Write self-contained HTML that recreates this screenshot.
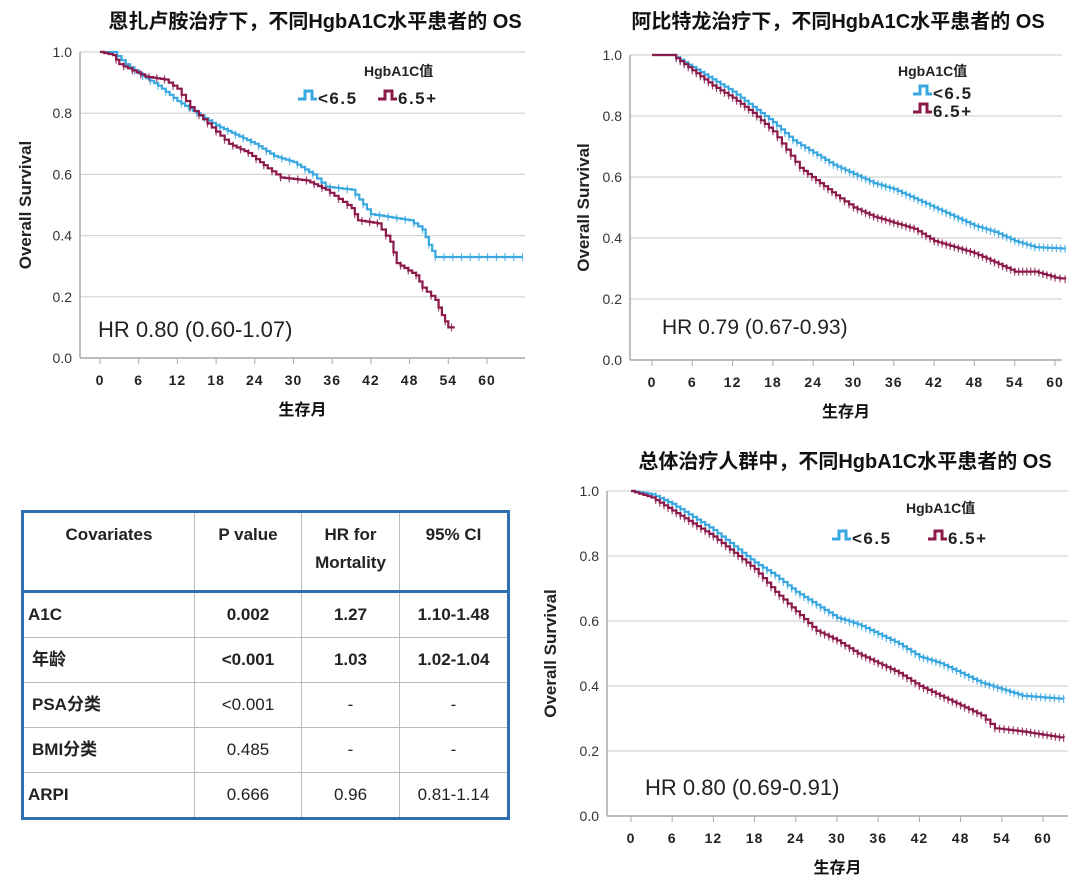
<!DOCTYPE html>
<html><head><meta charset="utf-8">
<style>
body{margin:0;background:#fff;width:1080px;height:884px;overflow:hidden;font-family:"Liberation Sans","Noto Sans CJK SC",sans-serif;}
svg{position:absolute;left:0;top:0}
table{position:absolute;left:21px;top:510px;width:489px;height:305px;border-collapse:collapse;border:3px solid #2d6fb0;font-family:"Liberation Sans","Noto Sans CJK SC",sans-serif;font-size:17px;color:#222;table-layout:fixed}
td{border:1px solid #bbb;text-align:center;padding:0;vertical-align:middle;height:44px;line-height:20px}
tr.h td{font-weight:bold;vertical-align:top;padding-top:8px;line-height:28px;border-bottom:3px solid #2d6fb0;height:69px}
td.l{text-align:left;padding-left:4px;font-weight:bold}
.b{font-weight:bold}
</style></head><body>
<svg id="s" width="1080" height="884" xmlns="http://www.w3.org/2000/svg" font-family="Liberation Sans, Noto Sans CJK SC, sans-serif"></svg>
<table>
<tr class="h"><td style="width:170px">Covariates</td><td style="width:106px">P value</td><td style="width:97px">HR for<br>Mortality</td><td>95% CI</td></tr>
<tr><td class="l">A1C</td><td class="b">0.002</td><td class="b">1.27</td><td class="b">1.10-1.48</td></tr>
<tr><td class="l" style="padding-left:8px">年龄</td><td class="b">&lt;0.001</td><td class="b">1.03</td><td class="b">1.02-1.04</td></tr>
<tr><td class="l" style="padding-left:8px">PSA分类</td><td>&lt;0.001</td><td>-</td><td>-</td></tr>
<tr><td class="l" style="padding-left:8px">BMI分类</td><td>0.485</td><td>-</td><td>-</td></tr>
<tr><td class="l">ARPI</td><td>0.666</td><td>0.96</td><td>0.81-1.14</td></tr>
</table>
<script>
const s=document.getElementById('s');let h='';
const B='#3aa8e0',R='#8b1a4a';
function chart(c){
 const X=m=>c.x0+(c.x60-c.x0)*m/60, Y=v=>c.y0+c.y1*v;
 h+=`<text x="${c.tx}" y="${c.ty}" font-size="20" font-weight="bold" text-anchor="middle" fill="#111">${c.title}</text>`;
 for(let i=0;i<=5;i++){const y=Y(i/5);h+=`<line x1="${c.ax}" x2="${c.right}" y1="${y}" y2="${y}" stroke="#d4d4d4" stroke-width="1.2"/>`;
  h+=`<text x="${c.ax-8}" y="${y+5}" font-size="14" text-anchor="end" fill="#333">${(i/5).toFixed(1)}</text>`;}
 h+=`<line x1="${c.ax}" x2="${c.ax}" y1="${Y(1)}" y2="${Y(0)}" stroke="#aaa" stroke-width="1.5"/>`;
 h+=`<line x1="${c.ax}" x2="${c.right}" y1="${Y(0)}" y2="${Y(0)}" stroke="#aaa" stroke-width="1.5"/>`;
 for(let m=0;m<=60;m+=6){h+=`<line x1="${X(m)}" x2="${X(m)}" y1="${Y(0)}" y2="${Y(0)+6}" stroke="#aaa"/>`;
  h+=`<text x="${X(m)}" y="${Y(0)+27}" font-size="14" font-weight="bold" text-anchor="middle" fill="#222" letter-spacing="1">${m}</text>`;}
 h+=`<text x="${(c.ax+c.right)/2}" y="${Y(0)+57}" font-size="16" font-weight="bold" text-anchor="middle" fill="#111">生存月</text>`;
 const yc=(Y(0)+Y(1))/2;
 h+=`<text transform="translate(${c.ylx},${yc}) rotate(-90)" font-size="17" font-weight="bold" text-anchor="middle" fill="#222">Overall Survival</text>`;
 h+=`<text x="${c.hx}" y="${c.hy}" font-size="${c.hs}" fill="#222">${c.hr}</text>`;
 [[c.blue,B],[c.red,R]].forEach(([pts,col])=>{
  let d=`M${X(pts[0][0])},${Y(pts[0][1])}`,tk='';let cnt=0;
  for(let i=1;i<pts.length;i++){const[a,va]=pts[i-1],[b,vb]=pts[i];const n=Math.max(1,Math.round((b-a)*1.5));
   for(let k=1;k<=n;k++){const m=a+(b-a)*k/n,v=va+(vb-va)*k/n;d+=`H${X(m).toFixed(1)}V${Y(v).toFixed(1)}`;
    if(m>c.tstart&&(cnt++%c.tev==0))tk+=`M${X(m).toFixed(1)},${(Y(v)-4).toFixed(1)}v8`;}}
  h+=`<path d="${d}" fill="none" stroke="${col}" stroke-width="2.2"/><path d="${tk}" stroke="${col}" stroke-width="1.2" opacity=".8"/>`;
 });
 const L=c.leg;
 h+=`<text x="${L.tx}" y="${L.ty}" font-size="14" font-weight="bold" fill="#222">HgbA1C值</text>`;
 L.items.forEach(([x,y,col,t])=>{h+=`<path d="M${x},${y}h7v-8h7v8h5" fill="none" stroke="${col}" stroke-width="3"/><text x="${x+20}" y="${y+5}" font-size="17" font-weight="bold" fill="#222" letter-spacing="1.5">${t}</text>`;});
}
chart({title:'恩扎卢胺治疗下，不同HgbA1C水平患者的 OS',tx:315,ty:28,ax:80,right:525,x0:100,x60:487,y0:358,y1:52-358,ylx:31,
 hr:'HR 0.80 (0.60-1.07)',hx:98,hy:337,hs:22,tstart:2,tev:2,
 leg:{tx:364,ty:76,items:[[298,99,B,'&lt;6.5'],[378,99,R,'6.5+']]},
 blue:[[0,1],[2,1],[4,.96],[6,.93],[9,.89],[12,.84],[15,.8],[18,.76],[21,.73],[24,.7],[27,.66],[30,.64],[33,.6],[35,.56],[39,.55],[42,.47],[48,.45],[50,.42],[51,.37],[52,.33],[65.5,.33]],
 red:[[0,1],[2,.99],[3,.96],[5,.94],[7,.92],[10,.91],[12,.88],[14,.82],[16,.78],[18,.74],[20,.7],[23,.67],[26,.62],[28,.59],[32,.58],[35,.55],[37,.52],[39,.49],[40,.45],[43,.44],[45,.38],[46,.31],[49,.27],[50,.23],[52,.19],[53,.14],[54,.1],[55,.1]]});
chart({title:'阿比特龙治疗下，不同HgbA1C水平患者的 OS',tx:838,ty:28,ax:630,right:1062,x0:652,x60:1055,y0:360,y1:55-360,ylx:589,
 hr:'HR 0.79 (0.67-0.93)',hx:662,hy:334,hs:21,tstart:3,tev:1,
 leg:{tx:898,ty:76,items:[[913,94,B,'&lt;6.5'],[913,112,R,'6.5+']]},
 blue:[[0,1],[3,1],[6,.96],[9,.92],[12,.88],[15,.83],[18,.78],[21,.72],[24,.68],[27,.64],[30,.61],[33,.58],[36,.56],[39,.53],[42,.5],[45,.47],[48,.44],[51,.42],[54,.39],[57,.37],[61.5,.365]],
 red:[[0,1],[3,1],[6,.95],[9,.9],[12,.86],[15,.81],[18,.75],[20,.69],[22,.63],[25,.58],[28,.53],[30,.5],[33,.47],[36,.45],[39,.43],[42,.39],[45,.37],[48,.35],[51,.32],[54,.29],[57,.29],[60,.27],[61.5,.265]]});
chart({title:'总体治疗人群中，不同HgbA1C水平患者的 OS',tx:845,ty:468,ax:607,right:1068,x0:631,x60:1043,y0:816,y1:491-816,ylx:556,
 hr:'HR 0.80 (0.69-0.91)',hx:645,hy:795,hs:22,tstart:3,tev:1,
 leg:{tx:906,ty:513,items:[[832,539,B,'&lt;6.5'],[928,539,R,'6.5+']]},
 blue:[[0,1],[3,.99],[6,.96],[9,.92],[12,.88],[15,.83],[18,.78],[21,.74],[24,.69],[27,.65],[30,.61],[33,.59],[36,.56],[39,.53],[42,.49],[45,.47],[48,.44],[51,.41],[54,.39],[57,.37],[63,.36]],
 red:[[0,1],[3,.98],[6,.94],[9,.9],[12,.86],[15,.81],[18,.76],[21,.69],[24,.63],[27,.57],[30,.54],[33,.5],[36,.47],[39,.44],[42,.4],[45,.37],[48,.34],[51,.31],[53,.27],[57,.26],[60,.25],[63,.24]]});
s.innerHTML=h;
</script>
</body></html>
